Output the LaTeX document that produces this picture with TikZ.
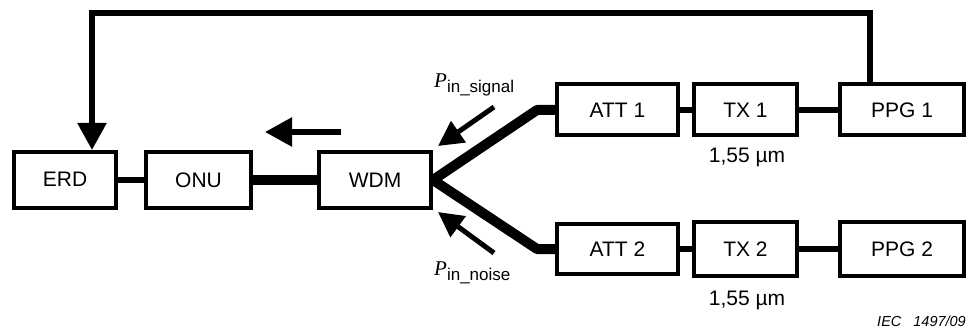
\documentclass[tikz,border=0pt]{standalone}
\usepackage{fontspec}
\setmainfont{Liberation Sans}
\newfontfamily\timesfont{Liberation Serif}
\usetikzlibrary{arrows.meta}

\begin{document}
\begin{tikzpicture}[x=1pt, y=-1pt,
  boite/.style={draw, line width=4pt, inner sep=0pt, font=\fontsize{21}{23}\selectfont},
  fil/.style={line width=6.5pt},
  fibre/.style={line width=10pt},
  fleche/.style={line width=5.5pt, -{Triangle[length=27pt, width=28pt]}},
  puiss/.style={line width=5pt, -{Triangle[length=25pt, width=25pt]}},
  legende/.style={font=\fontsize{21}{23}\selectfont}]

\useasboundingbox (0,0) rectangle (968,331);

% Boîtes
\node[boite, minimum width=102pt, minimum height=56pt] (erd) at (65,180) {\raisebox{2pt}{ERD}};
\node[boite, minimum width=105pt, minimum height=56pt] (onu) at (198.5,180) {\raisebox{-4pt}{ONU}};
\node[boite, minimum width=112pt, minimum height=56pt] (wdm) at (375,180) {WDM};
\node[boite, minimum width=121pt, minimum height=51pt] (att1) at (617.5,110) {ATT 1};
\node[boite, minimum width=103pt, minimum height=51pt] (tx1) at (745.5,110) {TX 1};
\node[boite, minimum width=124pt, minimum height=51pt] (ppg1) at (902,110) {PPG 1};
\node[boite, minimum width=121pt, minimum height=50pt] (att2) at (617.5,249) {ATT 2};
\node[boite, minimum width=103pt, minimum height=54pt] (tx2) at (745.5,249) {TX 2};
\node[boite, minimum width=124pt, minimum height=54pt] (ppg2) at (902,249) {\raisebox{-3pt}{PPG 2}};

% Liaisons
\draw[fil] (erd) -- (onu);
\draw[fibre] (onu) -- (wdm);
\coordinate (b1) at (537,110);
\coordinate (b2) at (537,249);
\draw[fibre, line join=round] (wdm.east) -- (b1) -- (att1.west);
\draw[fibre, line join=round] (wdm.east) -- (b2) -- (att2.west);
\draw[fil] (att1) -- (tx1);
\draw[fil] (tx1) -- (ppg1);
\draw[fil] (att2) -- (tx2);
\draw[fil] (tx2) -- (ppg2);

% Retour
\coordinate (h1) at (870,13);
\coordinate (h2) at (92,13);
\draw[fleche] (ppg1.north -| h1) -- (h1) -- (h2) -- (erd.north -| h2);

% Sens de propagation
\coordinate (s1) at (341,132);
\coordinate (s2) at (265,132);
\draw[fleche] (s1) -- (s2);
\coordinate (p1) at (494,107);
\coordinate (p2) at (438,146);
\draw[puiss] (p1) -- (p2);
\coordinate (n1) at (494,253);
\coordinate (n2) at (438,212);
\draw[puiss] (n1) -- (n2);

% Textes
\node[anchor=base west, inner sep=0pt] (psig) at (434,88)
  {{\timesfont\itshape\fontsize{21}{23}\selectfont P}\raisebox{-5pt}{\fontsize{17}{19}\selectfont in\_signal}};
\node[anchor=base west, inner sep=0pt] (pnoi) at (434,275)
  {{\timesfont\itshape\fontsize{21}{23}\selectfont P}\raisebox{-5pt}{\fontsize{17}{19}\selectfont in\_noise}};
\node[legende, anchor=base] (l1) at (747,163) {1,55 µm};
\node[legende, anchor=base] (l2) at (747,305) {1,55 µm};
\node[anchor=base east, inner sep=0pt, font=\fontsize{14.5}{16}\selectfont\itshape] (iec) at (966,326) {IEC\hspace{12pt}1497/09};

\end{tikzpicture}
\end{document}
